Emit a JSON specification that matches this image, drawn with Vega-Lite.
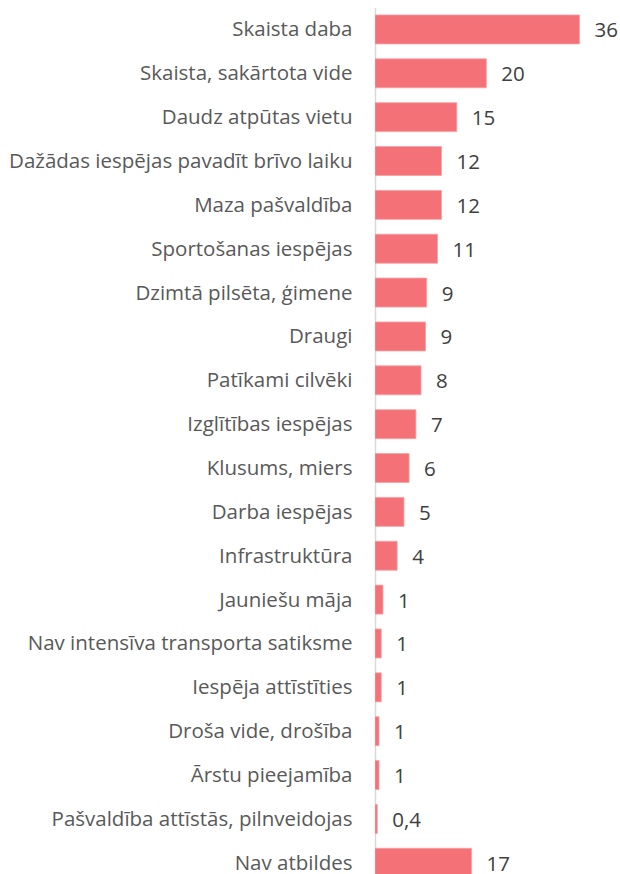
{
  "$schema": "https://vega.github.io/schema/vega-lite/v6.json",
  "width": 245,
  "height": 874,
  "autosize": {"type": "none"},
  "padding": {"left": 375, "top": 0, "right": 0, "bottom": 0},
  "background": "white",
  "config": {"view": {"stroke": null}, "font": "Open Sans"},
  "data": {
    "values": [
      {"cat": "Skaista daba", "value": 36.0, "label": "36"},
      {"cat": "Skaista, sakārtota vide", "value": 19.6, "label": "20"},
      {"cat": "Daudz atpūtas vietu", "value": 14.4, "label": "15"},
      {"cat": "Dažādas iespējas pavadīt brīvo laiku", "value": 11.7, "label": "12"},
      {"cat": "Maza pašvaldība", "value": 11.7, "label": "12"},
      {"cat": "Sportošanas iespējas", "value": 11.0, "label": "11"},
      {"cat": "Dzimtā pilsēta, ģimene", "value": 9.1, "label": "9"},
      {"cat": "Draugi", "value": 8.9, "label": "9"},
      {"cat": "Patīkami cilvēki", "value": 8.1, "label": "8"},
      {"cat": "Izglītības iespējas", "value": 7.2, "label": "7"},
      {"cat": "Klusums, miers", "value": 6.0, "label": "6"},
      {"cat": "Darba iespējas", "value": 5.1, "label": "5"},
      {"cat": "Infrastruktūra", "value": 3.9, "label": "4"},
      {"cat": "Jauniešu māja", "value": 1.4, "label": "1"},
      {"cat": "Nav intensīva transporta satiksme", "value": 1.1, "label": "1"},
      {"cat": "Iespēja attīstīties", "value": 1.1, "label": "1"},
      {"cat": "Droša vide, drošība", "value": 0.7, "label": "1"},
      {"cat": "Ārstu pieejamība", "value": 0.7, "label": "1"},
      {"cat": "Pašvaldība attīstās, pilnveidojas", "value": 0.4, "label": "0,4"},
      {"cat": "Nav atbildes", "value": 17.0, "label": "17"}
    ]
  },
  "encoding": {
    "y": {
      "field": "cat",
      "type": "nominal",
      "sort": null,
      "title": null,
      "scale": {"range": [7.5, 884.7], "paddingInner": 0.34, "paddingOuter": 0.17},
      "axis": {
        "ticks": false,
        "domainColor": "#D9D9D9",
        "domainWidth": 1.5,
        "labelFont": "Open Sans",
        "labelFontSize": 20.5,
        "labelColor": "#595959",
        "labelPadding": 23,
        "labelLimit": 400,
        "labelOffset": 1
      }
    },
    "x": {
      "field": "value",
      "type": "quantitative",
      "scale": {"domain": [0, 43.13], "nice": false},
      "axis": null
    }
  },
  "layer": [
    {
      "mark": {"type": "bar", "color": "#F37177", "stroke": "#F7A0A3", "strokeWidth": 0.8, "clip": true}
    },
    {
      "mark": {"type": "text", "align": "left", "baseline": "middle", "dx": 15, "dy": 2, "fontSize": 20.5, "color": "#404040", "font": "Open Sans"},
      "encoding": {"text": {"field": "label"}}
    }
  ]
}
